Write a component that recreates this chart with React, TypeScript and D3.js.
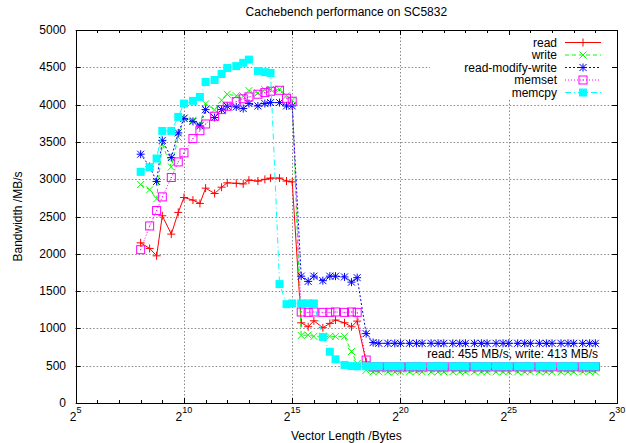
import React from 'react';
import * as d3 from 'd3';

// Vector lengths: 2^n, 2^n*4/3, 2^n*5/3 from 2^8 up to 2^29
const exponents = d3.range(8, 30);
const sizes: number[] = [];
exponents.forEach((n) => {
  [1, 4 / 3, 5 / 3].forEach((f, k) => {
    if (n === 29 && k > 0) return;
    sizes.push(Math.pow(2, n) * f);
  });
});

const seriesNames = ['read', 'write', 'read-modify-write', 'memset', 'memcpy'];

const readVals = [
  2147, 2072, 1973, 2510, 2264, 2555, 2755, 2720, 2675, 2880, 2808, 2893, 2951, 2945, 2937, 2987,
  2975, 2998, 3015, 3015, 2975, 2964, 1075, 1022, 1102, 1009, 1067, 1112, 1075, 1022, 1098, 550,
  455, 455, 455, 455, 455, 455, 455, 455, 455, 455, 455, 455, 455, 455, 455, 455,
  455, 455, 455, 455, 455, 455, 455, 455, 455, 455, 455, 455, 455, 455, 455, 455,
];
const writeVals = [
  2929, 2858, 2737, 3469, 3165, 3562, 3820, 3790, 3730, 4010, 3930, 4058, 4139, 4118, 4112, 4188,
  4156, 4200, 4205, 4205, 4118, 4058, 905, 911, 893, 895, 893, 893, 893, 690, 530, 440,
  418, 418, 418, 418, 418, 418, 418, 418, 418, 418, 418, 418, 418, 418, 418, 418,
  418, 418, 418, 418, 418, 418, 418, 418, 418, 418, 418, 418, 418, 418, 418, 418,
];
const rmwVals = [
  3335, 3170, 2970, 3520, 3290, 3621, 3815, 3775, 3715, 3933, 3827, 3933, 3978, 3969, 3947, 4014,
  3982, 4014, 4027, 4027, 3982, 3982, 1700, 1630, 1700, 1640, 1700, 1700, 1690, 1620, 1680, 930,
  810, 800, 800, 800, 800, 800, 800, 800, 800, 800, 800, 800, 800, 800, 800, 800,
  800, 800, 800, 800, 800, 800, 800, 800, 800, 800, 800, 800, 800, 800, 800, 800,
];
const memsetVals = [
  2055, 2373, 2580, 2763, 3023, 3232, 3353, 3545, 3650, 3740, 3844, 3933, 3978, 4040, 4078, 4103,
  4139, 4161, 4179, 4192, 4085, 4045, 1220, 1215, 1220, 1215, 1215, 1220, 1215, 1220, 1215, 576,
  485, 485, 485, 485, 485, 485, 485, 485, 485, 485, 485, 485, 485, 485, 485, 485,
  485, 485, 485, 485, 485, 485, 485, 485, 485, 485, 485, 485, 485, 485, 485, 485,
];
const memcpyVals = [
  3098, 3160, 3277, 3647, 3647, 3835, 4014, 4050, 4103, 4303, 4330, 4410, 4491, 4516, 4560, 4603,
  4451, 4435, 4424, 1594, 1325, 1335, 1335, 1335, 1335, 885, 687, 585, 510, 495, 492, 492,
  492, 492, 492, 492, 492, 492, 492, 492, 492, 492, 492, 492, 492, 492, 492, 492,
  492, 492, 492, 492, 492, 492, 492, 492, 492, 492, 492, 492, 492, 492, 492, 492,
];

const yTicks = [0, 500, 1000, 1500, 2000, 2500, 3000, 3500, 4000, 4500, 5000];
const xMajorExps = [5, 10, 15, 20, 25, 30];
const xMinorExps = d3.range(5, 31);

const titleText = 'Cachebench performance on SC5832';
const xLabel = 'Vector Length /Bytes';
const yLabel = 'Bandwidth /MB/s';
const noteText = 'read: 455 MB/s, write: 413 MB/s';

const W = 626;
const H = 443;
const L = 75.7;
const R = 617;
const T = 30;
const B = 403;
const FONT = '"Liberation Sans", Arial, Helvetica, sans-serif';

const styles = [
  { color: '#ff0000', dash: undefined as string | undefined, marker: 'plus' },
  { color: '#00ff00', dash: '4,3', marker: 'x' },
  { color: '#0000ff', dash: '2,2', marker: 'star' },
  { color: '#ff00ff', dash: '1,2', marker: 'box' },
  { color: '#00ffff', dash: '6,3,1,3', marker: 'fbox' },
];

function Marker({ type, x, y, color }: { type: string; x: number; y: number; color: string }) {
  const s = 4;
  if (type === 'plus') {
    return (
      <g stroke={color} strokeWidth={1}>
        <line x1={x - s} y1={y} x2={x + s} y2={y} />
        <line x1={x} y1={y - s} x2={x} y2={y + s} />
      </g>
    );
  }
  if (type === 'x') {
    const d = 3.5;
    return (
      <g stroke={color} strokeWidth={1}>
        <line x1={x - d} y1={y - d} x2={x + d} y2={y + d} />
        <line x1={x - d} y1={y + d} x2={x + d} y2={y - d} />
      </g>
    );
  }
  if (type === 'star') {
    const d = 3.5;
    return (
      <g stroke={color} strokeWidth={1}>
        <line x1={x - d} y1={y - d} x2={x + d} y2={y + d} />
        <line x1={x - d} y1={y + d} x2={x + d} y2={y - d} />
        <line x1={x - s} y1={y} x2={x + s} y2={y} />
        <line x1={x} y1={y - s} x2={x} y2={y + s} />
      </g>
    );
  }
  if (type === 'box') {
    return (
      <g>
        <rect x={x - 4} y={y - 4} width={8} height={8} fill="none" stroke={color} strokeWidth={1} />
        <rect x={x - 0.5} y={y - 0.5} width={1} height={1} fill={color} />
      </g>
    );
  }
  return <rect x={x - 4} y={y - 4} width={8} height={8} fill={color} />;
}

export default function App() {
  const x = d3.scaleLog().base(2).domain([Math.pow(2, 5), Math.pow(2, 30)]).range([L, R]);
  const y = d3.scaleLinear().domain([0, 5000]).range([B, T]);
  const allVals = [readVals, writeVals, rmwVals, memsetVals, memcpyVals];
  const line = d3
    .line<number>()
    .x((_, i) => x(sizes[i]))
    .y((d) => y(d));

  const gridColor = '#888888';
  const legendY = [42.5, 55, 67.5, 80, 92.5];

  return (
    <svg width={W} height={H} style={{ position: 'absolute', left: 0, top: 0, background: '#fff' }} fontFamily={FONT}>
      <rect x={0} y={0} width={W} height={H} fill="#ffffff" />
      {/* grid */}
      <g stroke={gridColor} strokeWidth={1} strokeDasharray="1.5,2">
        {yTicks.filter((v) => v > 0 && v < 5000).map((v) => (
          <line key={'gy' + v} x1={L} x2={R} y1={Math.round(y(v)) + 0.5} y2={Math.round(y(v)) + 0.5} />
        ))}
        {xMajorExps.filter((e) => e > 5 && e < 30).map((e) => (
          <line key={'gx' + e} y1={T} y2={B} x1={Math.round(x(Math.pow(2, e))) + 0.5} x2={Math.round(x(Math.pow(2, e))) + 0.5} />
        ))}
      </g>
      {/* legend box (opaque) */}
      <rect x={430} y={35} width={182} height={64} fill="#ffffff" />
      {/* series */}
      {allVals.map((vals, si) => (
        <g key={'s' + si}>
          <path d={line(vals) || ''} fill="none" stroke={styles[si].color} strokeWidth={1} strokeDasharray={styles[si].dash} />
          {vals.map((v, i) => (
            <Marker key={i} type={styles[si].marker} x={x(sizes[i])} y={y(v)} color={styles[si].color} />
          ))}
        </g>
      ))}
      {/* legend */}
      {seriesNames.map((nm, si) => (
        <g key={'lg' + si}>
          <text x={557} y={legendY[si] + 4} textAnchor="end" fontSize={12} fill="#000">
            {nm}
          </text>
          <line x1={565} x2={601} y1={legendY[si]} y2={legendY[si]} stroke={styles[si].color} strokeWidth={1} strokeDasharray={styles[si].dash} />
          <Marker type={styles[si].marker} x={583} y={legendY[si]} color={styles[si].color} />
        </g>
      ))}
      {/* annotation */}
      <text x={598} y={358} textAnchor="end" fontSize={12} fill="#000">
        {noteText}
      </text>
      {/* frame */}
      <rect x={Math.round(L) + 0.5} y={T + 0.5} width={Math.round(R) - Math.round(L)} height={B - T} fill="none" stroke="#000" strokeWidth={1} />
      {/* y ticks */}
      <g stroke="#000" strokeWidth={1}>
        {yTicks.map((v) => (
          <g key={'yt' + v}>
            <line x1={L} x2={L + 5} y1={Math.round(y(v)) + 0.5} y2={Math.round(y(v)) + 0.5} />
            <line x1={R - 5} x2={R} y1={Math.round(y(v)) + 0.5} y2={Math.round(y(v)) + 0.5} />
          </g>
        ))}
        {xMinorExps.map((e) => {
          const px = Math.round(x(Math.pow(2, e))) + 0.5;
          const len = e % 5 === 0 ? 5 : 3;
          return (
            <g key={'xt' + e}>
              <line x1={px} x2={px} y1={B} y2={B - len} />
              <line x1={px} x2={px} y1={T} y2={T + len} />
            </g>
          );
        })}
      </g>
      {/* y tick labels */}
      {yTicks.map((v) => (
        <text key={'yl' + v} x={66} y={y(v) + 4} textAnchor="end" fontSize={12} fill="#000">
          {v}
        </text>
      ))}
      {/* x tick labels */}
      {xMajorExps.map((e) => (
        <text key={'xl' + e} x={x(Math.pow(2, e))} y={421} textAnchor="middle" fontSize={12} fill="#000">
          2
          <tspan fontSize={9} dy={-8}>
            {e}
          </tspan>
        </text>
      ))}
      {/* titles */}
      <text x={(L + R) / 2} y={16} textAnchor="middle" fontSize={12} fill="#000">
        {titleText}
      </text>
      <text x={(L + R) / 2} y={440} textAnchor="middle" fontSize={12} fill="#000">
        {xLabel}
      </text>
      <text transform={`translate(22,${(T + B) / 2}) rotate(-90)`} textAnchor="middle" fontSize={12} fill="#000">
        {yLabel}
      </text>
    </svg>
  );
}
